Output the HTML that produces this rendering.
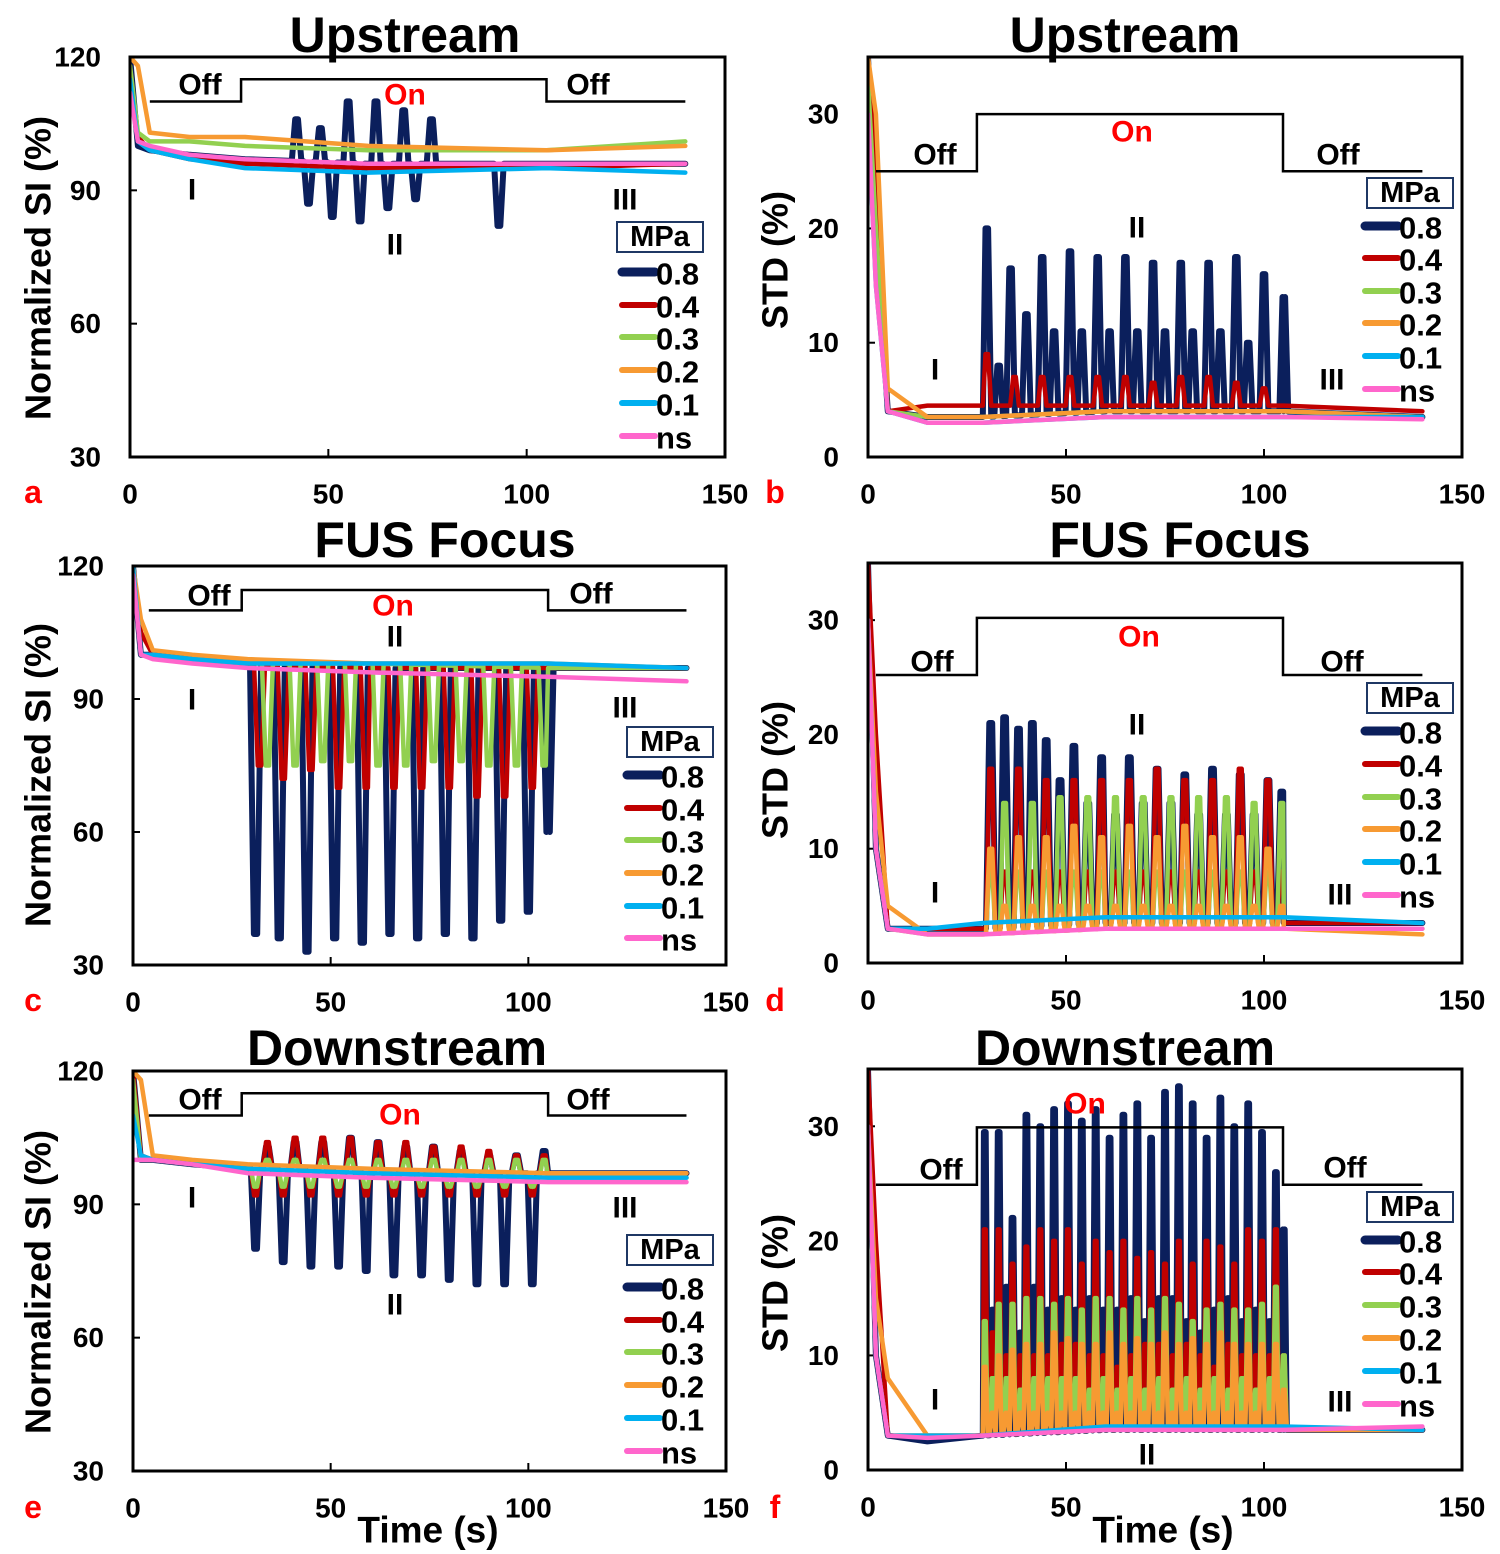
<!DOCTYPE html>
<html><head><meta charset="utf-8"><style>
html,body{margin:0;padding:0;background:#fff;}
svg{display:block;font-family:"Liberation Sans",Arial,sans-serif;font-weight:bold;}
</style></head><body>
<svg id="fig" width="1500" height="1554" viewBox="0 0 1500 1554" xmlns="http://www.w3.org/2000/svg"></svg>
<script>
// ---- shared data ----
const seriesNames = ['0.8','0.4','0.3','0.2','0.1','ns'];
const seriesColors = ['#0b1f5c','#c00000','#92d050','#f79a32','#00b0f0','#ff66cc'];
const baseT = [0,2,5,15,29,60,105,140];
const xTicks = [0,50,100,150];
const siTicks = [30,60,90,120];
const stdTicks = [0,10,20,30];

// Panel a: Upstream SI
const a_base_08 = [120,100,99,98,97,96,96,96];
const a_base_04 = [118,102,99,97,96,95,95,96];
const a_base_03 = [118,103,101,101,100,99,99,101];
const a_base_02 = [120,118,103,102,102,100,99,100];
const a_base_01 = [115,101,99,97,95,94,95,94];
const a_base_ns = [112,101,100,98,97,96,96,96];
const a_pulseT_08 = [42,45,48,51,55,58,62,65,69,72,76,93];
const a_pulseV_08 = [106,87,104,84,110,83,110,86,108,88,106,82];

// Panel b: Upstream STD
const b_base_08 = [35,20,4,3.5,3.5,4,4,3.5];
const b_base_04 = [35,25,4,4.5,4.5,4.5,4.5,4];
const b_base_03 = [33,20,4,3.5,3.5,4,4,3.5];
const b_base_02 = [35,30,6,3.5,3.5,4,4,3.5];
const b_base_01 = [30,15,4,3,3,3.5,3.5,3.5];
const b_base_ns = [30,15,4,3,3,3.5,3.5,3.3];
const b_pulseT_08 = [30,33,36,40,44,47,51,54,58,61,65,68,72,75,79,82,86,89,93,96,100,105];
const b_pulseV_08 = [20,8,16.5,12.5,17.5,11,18,11,17.5,11,17.5,11,17,11,17,11,17,11,17.5,10,16,14];
const b_pulseT_04 = [30,37,44,51,58,65,72,79,86,93,100];
const b_pulseV_04 = [9,7,7,7,7,7,6.5,7,7,6.5,6];

// Panel c: FUS Focus SI
const c_base_08 = [120,100,100,99,98,97,97,97];
const c_base_04 = [120,105,100,99,98,97,97,97];
const c_base_03 = [120,100,100,99,98,98,97,97];
const c_base_02 = [120,108,101,100,99,98,98,97];
const c_base_01 = [120,100,100,99,98,98,98,97];
const c_base_ns = [118,100,99,98,97,96,95,94];
const c_pulseT_08 = [31,37,44,51,58,65,72,79,86,93,100,105];
const c_pulseV_08 = [37,36,33,36,35,37,36,37,36,40,42,60];
const c_pulseT_04 = [32,38,45,52,59,66,73,80,87,94,101];
const c_pulseV_04 = [75,72,74,70,70,70,70,70,68,68,70];
const c_pulseT_03 = [34,41,48,55,62,69,76,83,90,97,104];
const c_pulseV_03 = [75,75,76,76,75,75,76,76,75,75,75];

// Panel d: FUS Focus STD
const d_base_08 = [35,10,3,3,3,3.5,3.5,3.5];
const d_base_04 = [35,20,3,3,3,3.5,3.5,3.5];
const d_base_03 = [30,10,3,2.5,2.5,3,3,3];
const d_base_02 = [30,15,5,2.5,2.5,3,3,2.5];
const d_base_01 = [30,10,3,3,3.5,4,4,3.5];
const d_base_ns = [30,10,3,2.5,2.5,3,3,3];
const d_pulseT = [31,34.5,38,41.5,45,48.5,52,55.5,59,62.5,66,69.5,73,76.5,80,83.5,87,90.5,94,97.5,101,104.5];
const d_pulseV_08 = [21,21.5,20.5,21,19.5,16,19,14,18,13,18,14,17,14,16.5,13,17,13,16.5,13,16,15];
const d_pulseV_04 = [17,8,17,8,16,8,16,8,16,8,16,8,17,8,16,8,16,8,17,8,16,8];
const d_pulseV_03 = [8,14,8,14,8,14.5,8,14.5,8,14.5,8,14.5,8,14.5,8,14.5,8,14.5,8,14,8,14];
const d_pulseV_02 = [10,5,11,5,11,5,12,5,11,5,12,5,11,5,12,5,11,5,11,5,10,5];

// Panel e: Downstream SI
const e_base_08 = [120,100,100,99,98,97,97,97];
const e_base_04 = [120,101,100,99,98,97,97,97];
const e_base_03 = [118,100,100,99,98,97,96,96];
const e_base_02 = [120,118,101,100,99,98,97,97];
const e_base_01 = [110,101,100,99,98,97,96,96];
const e_base_ns = [100,100,100,99,97,96,95,95];
const e_pulseT = [31,34,38,41,45,48,52,55,59,62,66,69,73,76,80,83,87,90,94,97,101,104];
const e_pulseV_08 = [80,103,77,104,76,104,76,105,75,104,74,103,74,103,73,102,72,101,72,101,72,102];
const e_pulseV_04 = [92,104,92,105,92,105,92,105,92,104,92,104,92,103,92,103,92,102,92,101,92,101];
const e_pulseV_03 = [94,100,94,100,94,100,94,100,94,100,94,100,94,100,94,100,94,100,94,100,94,100];

// Panel f: Downstream STD
const f_base_08 = [35,10,3,2.5,3,3.5,3.5,3.5];
const f_base_04 = [35,20,3,3,3,3.5,3.5,3.5];
const f_base_03 = [30,10,3,3,3,3.5,3.5,3.5];
const f_base_02 = [30,15,8,3,3,3.5,3.5,3.5];
const f_base_01 = [30,10,3,3,3,3.8,3.8,3.5];
const f_base_ns = [30,10,3,2.8,3,3.5,3.5,3.8];
const f_pulseT = [29.5,31.5,33,35,36.5,38.5,40,42,43.5,45.5,47,49,50.5,52.5,54,56,57.5,59.5,61,63,64.5,66.5,68,70,71.5,73.5,75,77,78.5,80.5,82,84,85.5,87.5,89,91,92.5,94.5,96,98,99.5,101.5,103,105];
const f_pulseV_08 = [29.5,14,29.5,16,22,12,31,16,30,14,31.5,15,32,14,30.5,15,31.5,14,29,14,31,15,32,13,29,15,33,15,33.5,13,32,12,29,14,32.5,15,30,13,32,14,29.5,13,26,21];
const f_pulseV_04 = [21,12,21,10,18,10,19.5,10,21,10,20,11,21,11,18,10,20,10,19,9,20,10,18.5,11,19,11,18,10,20,11,18,10,20,9,19.5,11,18,10,21,10,20,10,21,10];
const f_pulseV_03 = [13,8,14.5,8,14.5,7,15,8,15,8,14.5,8,15,8,14,7,15,8,15,7,14,8,15,7,14,8,15,7,14.5,8,13,7,14,8,14.5,7,14,8,14,7,14.5,8,16,10];
const f_pulseV_02 = [9,5,10,5,10.5,5,11,5,11,5,12,5,11.5,5,11,5,11,5,12,5,11,5,11.5,5,11,5,12,5,11,5,11.5,5,11,5,12,5,11,5,11,5,11,5,11,7];

const NS='http://www.w3.org/2000/svg';
const svg=document.getElementById('fig');
function mk(tag,attrs,parent){const e=document.createElementNS(NS,tag);for(const k in attrs)e.setAttribute(k,attrs[k]);(parent||svg).appendChild(e);return e;}
function txt(s,x,y,size,fill,anchor,parent){const t=mk('text',{x:x,y:y,'font-size':size,fill:fill||'#000','text-anchor':anchor||'middle','dominant-baseline':'central'},parent);t.textContent=s;return t;}

function interp(t,bt,bv){if(t<=bt[0])return bv[0];for(let i=1;i<bt.length;i++){if(t<=bt[i]){const f=(t-bt[i-1])/(bt[i]-bt[i-1]);return bv[i-1]+f*(bv[i]-bv[i-1]);}}return bv[bv.length-1];}

function buildSeries(base,pT,pV,hw){
  const pts=[];
  for(let i=0;i<baseT.length;i++)pts.push([baseT[i],base[i]]);
  if(pT){for(let i=0;i<pT.length;i++){
    const t=pT[i];
    pts.push([t-hw,interp(t-hw,baseT,base)]);
    pts.push([t-hw*0.3,pV[i]]);
    pts.push([t+hw*0.3,pV[i]]);
    pts.push([t+hw,interp(t+hw,baseT,base)]);
  }}
  pts.sort((a,b)=>a[0]-b[0]);
  return pts;
}

const panels=[
 {id:'a',x0:130,x1:725,y0:57,y1:457,ymin:30,ymax:120,ticks:siTicks,title:'Upstream',tx:405,ty:35,ylab:'Normalized SI (%)',ylx:38,yly:268,
  step:[5,28,105,140,110,115],hw:1.2,
  bases:[a_base_08,a_base_04,a_base_03,a_base_02,a_base_01,a_base_ns],
  pulses:[[a_pulseT_08,a_pulseV_08],null,null,null,null,null],
  labels:[['Off',200,85,'#000'],['On',405,95,'#ff0000'],['Off',588,85,'#000'],['I',192,190,'#000'],['II',395,245,'#000'],['III',625,200,'#000']],
  leg:{bx:617,by:222,ys:[272,305,337,370,403,436],lx:622}, letter:[33,492]},
 {id:'b',x0:868,x1:1462,y0:57,y1:457,ymin:0,ymax:35,ticks:stdTicks,title:'Upstream',tx:1125,ty:35,ylab:'STD (%)',ylx:775,yly:260,
  step:[2,27.5,104.8,140,25,30],hw:1.1,
  bases:[b_base_08,b_base_04,b_base_03,b_base_02,b_base_01,b_base_ns],
  pulses:[[b_pulseT_08,b_pulseV_08],[b_pulseT_04,b_pulseV_04],null,null,null,null],
  labels:[['Off',935,155,'#000'],['On',1132,132,'#ff0000'],['Off',1338,155,'#000'],['I',935,370,'#000'],['II',1137,228,'#000'],['III',1332,380,'#000']],
  leg:{bx:1367,by:178,ys:[226,258,291,323,356,389],lx:1365}, letter:[775,492]},
 {id:'c',x0:133,x1:726,y0:566,y1:965,ymin:30,ymax:120,ticks:siTicks,title:'FUS Focus',tx:445,ty:540,ylab:'Normalized SI (%)',ylx:38,yly:775,
  step:[4,27.5,105,140,110,114.6],hw:1.4,
  bases:[c_base_08,c_base_04,c_base_03,c_base_02,c_base_01,c_base_ns],
  pulses:[[c_pulseT_08,c_pulseV_08],[c_pulseT_04,c_pulseV_04],[c_pulseT_03,c_pulseV_03],null,null,null],
  labels:[['Off',209,596,'#000'],['On',393,606,'#ff0000'],['Off',591,594,'#000'],['II',395,637,'#000'],['I',192,700,'#000'],['III',625,708,'#000']],
  leg:{bx:627,by:727,ys:[775,808,840,873,906,938],lx:627}, letter:[33,1000]},
 {id:'d',x0:868,x1:1462,y0:563,y1:963,ymin:0,ymax:35,ticks:stdTicks,title:'FUS Focus',tx:1180,ty:540,ylab:'STD (%)',ylx:775,yly:770,
  step:[2,27.5,104.8,140,25.2,30.2],hw:1.2,
  bases:[d_base_08,d_base_04,d_base_03,d_base_02,d_base_01,d_base_ns],
  pulses:[[d_pulseT,d_pulseV_08],[d_pulseT,d_pulseV_04],[d_pulseT,d_pulseV_03],[d_pulseT,d_pulseV_02],null,null],
  labels:[['Off',932,662,'#000'],['On',1139,637,'#ff0000'],['Off',1342,662,'#000'],['II',1137,725,'#000'],['I',935,893,'#000'],['III',1340,895,'#000']],
  leg:{bx:1367,by:683,ys:[731,764,797,829,862,895],lx:1365}, letter:[775,1000]},
 {id:'e',x0:133,x1:726,y0:1071,y1:1471,ymin:30,ymax:120,ticks:siTicks,title:'Downstream',tx:397,ty:1048,ylab:'Normalized SI (%)',ylx:38,yly:1282,
  step:[4,27.5,105,140,110,115],hw:1.2,
  bases:[e_base_08,e_base_04,e_base_03,e_base_02,e_base_01,e_base_ns],
  pulses:[[e_pulseT,e_pulseV_08],[e_pulseT,e_pulseV_04],[e_pulseT,e_pulseV_03],null,null,null],
  labels:[['Off',200,1100,'#000'],['On',400,1115,'#ff0000'],['Off',588,1100,'#000'],['I',192,1198,'#000'],['II',395,1305,'#000'],['III',625,1208,'#000']],
  leg:{bx:627,by:1235,ys:[1287,1320,1352,1385,1418,1451],lx:627}, letter:[33,1507], xlab:[428,1530]},
 {id:'f',x0:868,x1:1462,y0:1069,y1:1470,ymin:0,ymax:35,ticks:stdTicks,title:'Downstream',tx:1125,ty:1048,ylab:'STD (%)',ylx:775,yly:1283,
  step:[2,27.5,104.8,140,24.9,29.9],hw:0.75,
  bases:[f_base_08,f_base_04,f_base_03,f_base_02,f_base_01,f_base_ns],
  pulses:[[f_pulseT,f_pulseV_08],[f_pulseT,f_pulseV_04],[f_pulseT,f_pulseV_03],[f_pulseT,f_pulseV_02],null,null],
  labels:[['Off',941,1170,'#000'],['On',1085,1104,'#ff0000'],['Off',1345,1168,'#000'],['I',935,1400,'#000'],['II',1147,1455,'#000'],['III',1340,1402,'#000']],
  leg:{bx:1367,by:1192,ys:[1240,1272,1305,1338,1371,1404],lx:1365}, letter:[775,1507], xlab:[1163,1530]}
];

const defs=mk('defs',{});
panels.forEach(p=>{
  const g=mk('g',{});
  
  
  const sx=t=>p.x0+(t/150)*(p.x1-p.x0);
  const sy=v=>p.y1-(v-p.ymin)/(p.ymax-p.ymin)*(p.y1-p.y0);
  const cp=mk('clipPath',{id:'clip-'+p.id},defs);
  mk('rect',{x:p.x0,y:p.y0,width:p.x1-p.x0,height:p.y1-p.y0},cp);
  const tt=txt(p.title,p.tx,p.ty,50,'#000','middle',g);
  
  
  const yl=mk('text',{x:0,y:0,'font-size':36,'text-anchor':'middle','dominant-baseline':'central',transform:'translate('+p.ylx+','+p.yly+') rotate(-90)'},g);
  yl.textContent=p.ylab;
  
  
  p.ticks.forEach(v=>{
    const t=txt(String(v),p.x0-29,sy(v),28,'#000','end',g);
    
    
    mk('line',{x1:p.x0,x2:p.x0+7,y1:sy(v),y2:sy(v),stroke:'#000','stroke-width':2},g);
  });
  xTicks.forEach(v=>{
    const t=txt(String(v),sx(v),p.y1+37,28,'#000','middle',g);
    
    
    mk('line',{x1:sx(v),x2:sx(v),y1:p.y1,y2:p.y1-8,stroke:'#000','stroke-width':2},g);
  });
  const sg=mk('g',{'clip-path':'url(#clip-'+p.id+')'},g);
  for(let s=0;s<6;s++){
    const pl=p.pulses[s];
    const pts=buildSeries(p.bases[s],pl?pl[0]:null,pl?pl[1]:null,p.hw);
    const d=pts.map((q,i)=>(i?'L':'M')+sx(q[0]).toFixed(1)+' '+sy(q[1]).toFixed(1)).join(' ');
    const path=mk('path',{d:d,fill:'none',stroke:seriesColors[s],'stroke-width':s===0?6:4.5,'stroke-linejoin':'round','stroke-linecap':'round'},sg);
    
    
  }
  const st=p.step;
  const sd='M'+sx(st[0])+' '+sy(st[4])+' L'+sx(st[1])+' '+sy(st[4])+' L'+sx(st[1])+' '+sy(st[5])+' L'+sx(st[2])+' '+sy(st[5])+' L'+sx(st[2])+' '+sy(st[4])+' L'+sx(st[3])+' '+sy(st[4]);
  const sp=mk('path',{d:sd,fill:'none',stroke:'#000','stroke-width':2.5},g);
  
  
  p.labels.forEach(l=>{
    const t=txt(l[0],l[1],l[2],30,l[3],'middle',g);
    
    
  });
  const fr=mk('rect',{x:p.x0,y:p.y0,width:p.x1-p.x0,height:p.y1-p.y0,fill:'none',stroke:'#000','stroke-width':3},g);
  
  
  const lg=mk('g',{},g);
  
  
  mk('rect',{x:p.leg.bx,y:p.leg.by,width:86,height:30,fill:'#fff',stroke:'#1f3864','stroke-width':2},lg);
  txt('MPa',p.leg.bx+43,p.leg.by+15,29,'#000','middle',lg);
  for(let s=0;s<6;s++){
    const y=p.leg.ys[s];
    const le=mk('g',{},lg);
    
    
    mk('line',{x1:p.leg.lx,x2:p.leg.lx+33,y1:y,y2:y,stroke:seriesColors[s],'stroke-width':s===0?9:6,'stroke-linecap':'round'},le);
    txt(seriesNames[s],p.leg.lx+34,y+2,31,'#000','start',le);
  }
  const lt=txt(p.id,p.letter[0],p.letter[1],32,'#ff0000','middle',g);
  
  
  if(p.xlab){
    const xl=txt('Time (s)',p.xlab[0],p.xlab[1],37,'#000','middle',g);
    
    
  }
});
</script>
</body></html>
